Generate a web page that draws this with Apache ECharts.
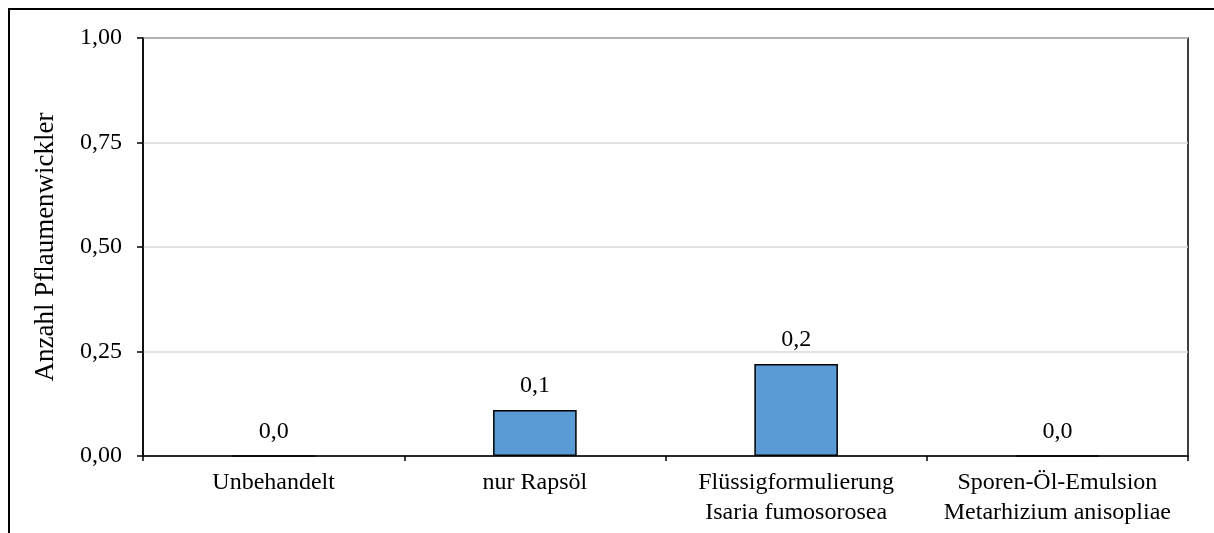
<!DOCTYPE html>
<html><head><meta charset="utf-8">
<script src="https://cdn.jsdelivr.net/npm/echarts@6/dist/echarts.min.js"></script>
<style>html,body{margin:0;padding:0;background:#fff}#c{width:1214px;height:533px}</style>
</head><body><div id="c"></div>
<script>
const categories = ['Unbehandelt', 'nur Rapsöl', 'Flüssigformulierung\nIsaria fumosorosea', 'Sporen-Öl-Emulsion\nMetarhizium anisopliae'];
const values = [0, 0.11, 0.22, 0];
const yTicks = [0, 0.25, 0.5, 0.75, 1];
const yAxisName = 'Anzahl Pflaumenwickler';

const FONT = '"Liberation Serif", "Times New Roman", serif';
const FS = 24;
const chart = echarts.init(document.getElementById('c'), null, {renderer: 'canvas'});
chart.setOption({
  animation: false,
  textStyle: {fontFamily: FONT},
  graphic: [{type: 'rect', shape: {x: 9, y: 9, width: 1400, height: 800}, style: {fill: 'none', stroke: '#000', lineWidth: 2}, silent: true}],
  grid: {left: 143, top: 38, right: 26, bottom: 77, show: true, borderColor: '#000', borderWidth: 1.5, backgroundColor: 'transparent'},
  xAxis: {
    type: 'category', data: categories,
    axisLine: {lineStyle: {color: '#000', width: 1.5}},
    axisTick: {show: true, length: 5, lineStyle: {color: '#000', width: 1.5}},
    axisLabel: {color: '#000', fontFamily: FONT, fontSize: FS, lineHeight: 30, margin: 12, interval: 0}
  },
  yAxis: {
    type: 'value', min: yTicks[0], max: yTicks[yTicks.length - 1], interval: 0.25,
    name: yAxisName, nameLocation: 'middle', nameGap: 84, nameRotate: 90,
    nameTextStyle: {color: '#000', fontFamily: FONT, fontSize: 27},
    axisLine: {show: true, lineStyle: {color: '#000', width: 1.5}},
    axisTick: {show: true, length: 6, lineStyle: {color: '#000', width: 1.5}},
    axisLabel: {color: '#000', fontFamily: FONT, fontSize: FS, margin: 21,
      formatter: v => v.toFixed(2).replace('.', ',')},
    splitLine: {show: true, lineStyle: {color: '#d9d9d9', width: 1.5}}
  },
  series: [{
    type: 'bar', data: values, barWidth: '32%',
    itemStyle: {color: '#5b9bd5', borderColor: '#000', borderWidth: 1.5},
    label: {show: true, position: 'top', distance: 12, color: '#000', fontFamily: FONT, fontSize: FS,
      formatter: p => p.value.toFixed(1).replace('.', ',')}
  }]
});
</script></body></html>
